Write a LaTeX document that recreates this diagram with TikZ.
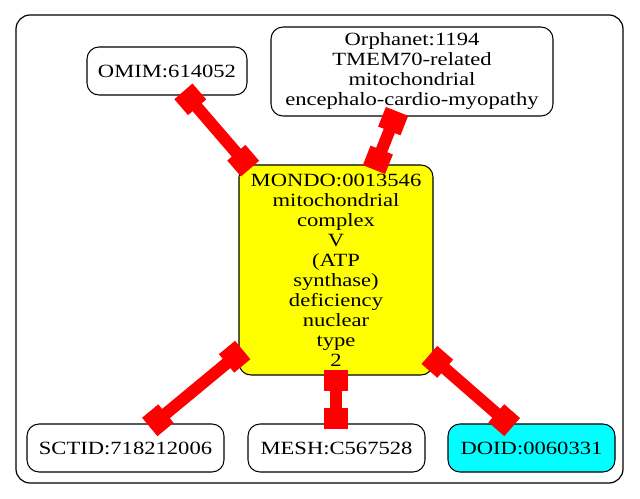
\documentclass[tikz,border=0pt]{standalone}
\usepackage{fontspec}
\setmainfont[FakeStretch=1.21]{Liberation Serif}
\usetikzlibrary{calc}
\definecolor{gvyellow}{RGB}{255,255,0}
\definecolor{gvcyan}{RGB}{0,255,255}
\definecolor{gvred}{RGB}{255,0,0}
\tikzset{
  gnode/.style={draw=black, line width=0.8pt, rounded corners=9pt, inner sep=0pt,
    align=center, font=\fontsize{14pt}{15pt}\selectfont},
  edgeline/.style={draw=gvred, line width=9pt, line cap=butt},
  redbox/.style={rectangle, fill=gvred, draw=none, inner sep=0pt,
    minimum width=21*0.75pt, minimum height=24*0.75pt},
  outerbox/.style={draw=black, line width=0.9pt, rounded corners=10.5pt}
}
\newcommand{\redge}[2]{%
  \draw[edgeline] (#1) -- (#2);
  \path ($(#1)!3.75pt!(#2)$) -- ($(#2)!3.75pt!(#1)$)
    node[redbox,pos=0,sloped]{} node[redbox,pos=1,sloped]{};
}
\begin{document}
\begin{tikzpicture}[x=0.75pt, y=-0.75pt]
\useasboundingbox (0,0) rectangle (640,499);
\draw[outerbox] (16,15) rectangle (623,483);

\node[gnode, minimum width=160*0.75pt, minimum height=48*0.75pt] (omim) at (167,71) {OMIM:614052};
\node[gnode, minimum width=282*0.75pt, minimum height=89*0.75pt] (orph) at (412,71.5)
  {Orphanet:1194\\TMEM70-related\\mitochondrial\\encephalo-cardio-myopathy};
\node[gnode, fill=gvyellow, minimum width=194*0.75pt, minimum height=210*0.75pt] (mondo) at (336,270)
  {MONDO:0013546\\mitochondrial\\complex\\V\\(ATP\\synthase)\\deficiency\\nuclear\\type\\2};
\node[gnode, minimum width=197*0.75pt, minimum height=48*0.75pt] (sctid) at (125.5,448) {SCTID:718212006};
\node[gnode, minimum width=177*0.75pt, minimum height=48*0.75pt] (mesh) at (336.5,448) {MESH:C567528};
\node[gnode, fill=gvcyan, minimum width=167*0.75pt, minimum height=48*0.75pt] (doid) at (531.5,448) {DOID:0060331};

\coordinate (e1a) at ($(omim.south)+(20,0)$);
\coordinate (e1b) at ($(mondo.north west)+(8,0)$);
\coordinate (e2a) at ($(orph.south)+(-17,0)$);
\coordinate (e2b) at ($(mondo.north)+(40,0)$);
\coordinate (e3a) at ($(mondo.south west)+(0,-22)$);
\coordinate (e3b) at ($(sctid.north)+(28.5,0)$);
\coordinate (e4a) at (mondo.south);
\coordinate (e4b) at (mondo.south |- mesh.north);
\coordinate (e5a) at ($(mondo.south east)+(0,-17)$);
\coordinate (e5b) at ($(doid.north)+(-23.5,0)$);

\redge{e1a}{e1b}
\redge{e2a}{e2b}
\redge{e3a}{e3b}
\redge{e4a}{e4b}
\redge{e5a}{e5b}
\end{tikzpicture}
\end{document}
